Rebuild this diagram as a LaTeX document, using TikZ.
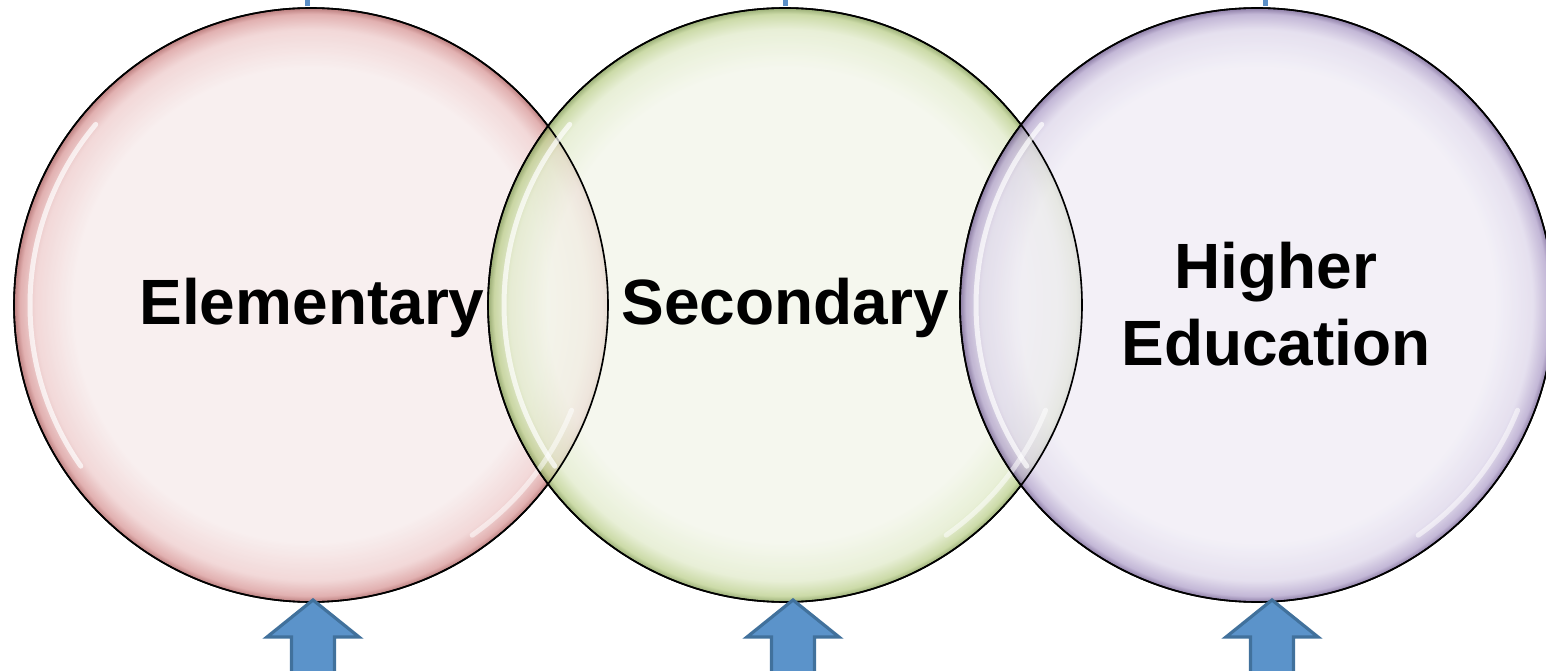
\documentclass[tikz,border=0pt]{standalone}
\usepackage{fontspec}
\setmainfont{Liberation Sans}
\definecolor{pinkin}{HTML}{F6EAEA}
\definecolor{pinkmid}{HTML}{EECDCD}
\definecolor{pinkedge}{HTML}{D99A9A}
\definecolor{pinkdark}{HTML}{A85A5A}
\definecolor{greenin}{HTML}{F2F5E9}
\definecolor{greenmid}{HTML}{E2EBCC}
\definecolor{greenedge}{HTML}{BDD08F}
\definecolor{greendark}{HTML}{7E9850}
\definecolor{purpin}{HTML}{EFECF5}
\definecolor{purpmid}{HTML}{DED7EA}
\definecolor{purpedge}{HTML}{B2A3CB}
\definecolor{purpdark}{HTML}{6E5A8E}
\definecolor{arrowfill}{HTML}{5B93CA}
\definecolor{arrowline}{HTML}{41719C}
\definecolor{topline}{HTML}{5B8FC7}
\pgfdeclareradialshading{pinkball}{\pgfpoint{0bp}{0bp}}{color(0bp)=(pinkin); color(20bp)=(pinkin); color(23.2bp)=(pinkmid); color(24.5bp)=(pinkedge); color(25bp)=(pinkdark); color(50bp)=(pinkdark)}
\pgfdeclareradialshading{greenball}{\pgfpoint{0bp}{0bp}}{color(0bp)=(greenin); color(20bp)=(greenin); color(23.2bp)=(greenmid); color(24.5bp)=(greenedge); color(25bp)=(greendark); color(50bp)=(greendark)}
\pgfdeclareradialshading{purpball}{\pgfpoint{0bp}{0bp}}{color(0bp)=(purpin); color(20bp)=(purpin); color(23.2bp)=(purpmid); color(24.5bp)=(purpedge); color(25bp)=(purpdark); color(50bp)=(purpdark)}
\tikzset{
  ball/.style={circle, minimum size=594pt, inner sep=0pt, draw=black, line width=1.6pt, fill opacity=0.78},
  label/.style={font=\bfseries\fontsize{64}{77}\selectfont, align=center, inner sep=0pt},
  gloss/.style={white, line width=5pt, opacity=0.7, line cap=round},
  uparrow/.style={fill=arrowfill, draw=arrowline, line width=3.2pt, line join=miter},
  topconn/.style={draw=topline, line width=5pt}
}
\begin{document}
\begin{tikzpicture}[x=1pt,y=1pt]
\useasboundingbox (0,0) rectangle (1546,670);
% circles
\node[ball, shading=pinkball] (c1) at (311,365) {};
\node[ball, shading=greenball] (c2) at (785,365) {};
\node[ball, shading=purpball] (c3) at (1257,365) {};
% redraw outlines so both show in overlaps
\foreach \c in {c1,c2,c3}{
  \draw[black, line width=1.6pt] (\c) circle[radius=297];
  \draw[gloss] (\c) ++(140:281) arc[start angle=140, end angle=215, radius=281];
  \draw[gloss, opacity=0.55] (\c) ++(-22:281) arc[start angle=-22, end angle=-55, radius=281];
}
% labels
\node[label] (t1) at (312,362) {Elementary};
\node[label] (t2) at (785,362) {Secondary};
\node[label] (t3) at (1276,366) {Higher\\Education};
% top connectors
\coordinate (e1) at (307,676);
\coordinate (e2) at (785,676);
\coordinate (e3) at (1265,676);
\draw[topconn] ([yshift=1pt]c1.north -| e1) -- (e1);
\draw[topconn] ([yshift=1pt]c2.north -| e2) -- (e2);
\draw[topconn] ([yshift=1pt]c3.north -| e3) -- (e3);
% up arrows
\foreach \x in {313,793,1272}{
  \draw[uparrow] (\x,70) -- (\x+46,33) -- (\x+21.5,33) -- (\x+21.5,-5) -- (\x-21.5,-5) -- (\x-21.5,33) -- (\x-46,33) -- cycle;
}
\end{tikzpicture}
\end{document}
